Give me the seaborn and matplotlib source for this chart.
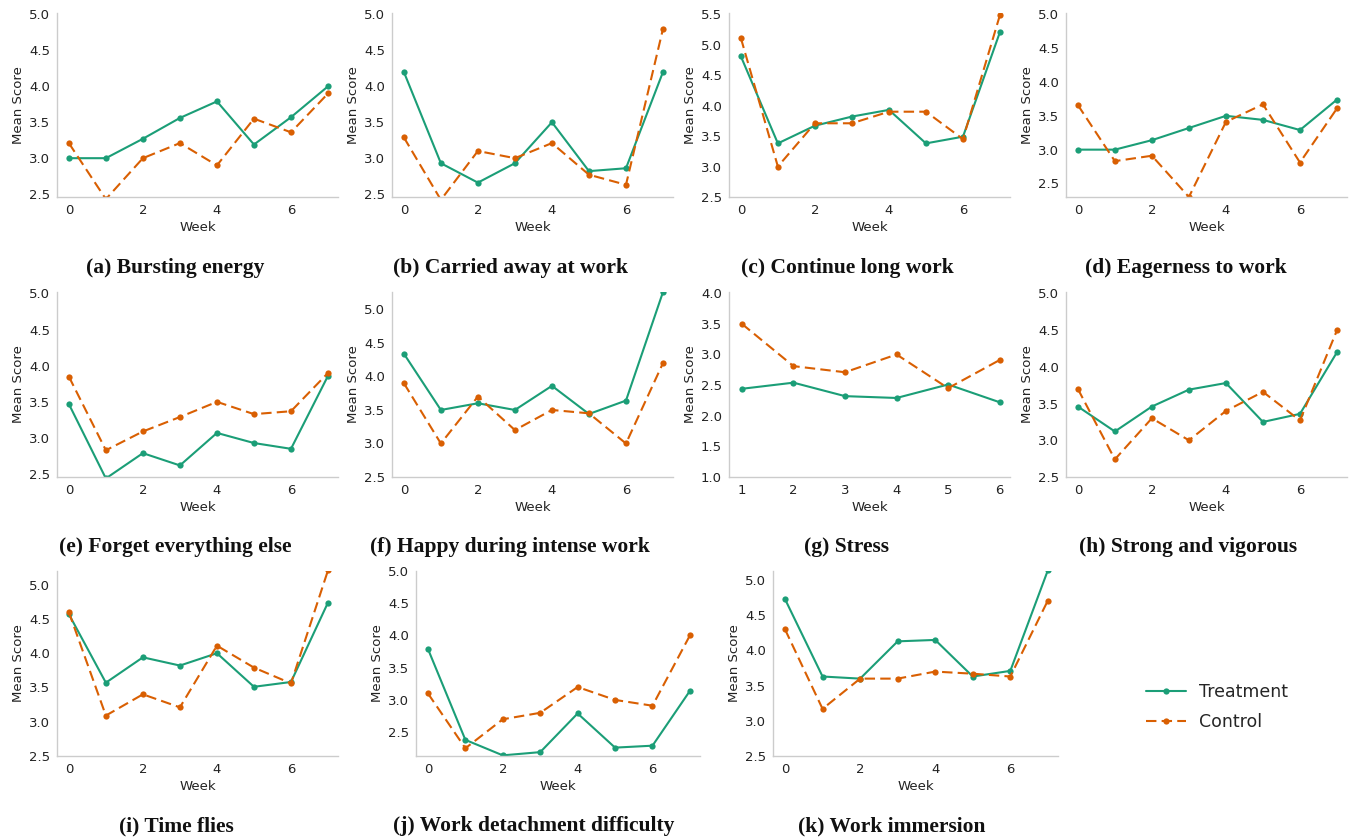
import matplotlib
matplotlib.use("Agg")
import matplotlib.pyplot as plt
import seaborn as sns
import pandas as pd
from matplotlib.lines import Line2D

sns.set_style("white")
plt.rcParams["font.family"] = ["DejaVu Sans"]

# ---------------- data ----------------
weeks = [0, 1, 2, 3, 4, 5, 6, 7]
stress_weeks = [1, 2, 3, 4, 5, 6]

bursting_treat = [3.0, 3.0, 3.27, 3.56, 3.79, 3.19, 3.57, 4.0]
bursting_ctrl = [3.21, 2.43, 3.0, 3.21, 2.9, 3.55, 3.36, 3.9]

carried_treat = [4.2, 2.93, 2.66, 2.93, 3.5, 2.82, 2.86, 4.2]
carried_ctrl = [3.29, 2.42, 3.1, 3.0, 3.21, 2.77, 2.63, 4.8]

continue_treat = [4.81, 3.38, 3.67, 3.82, 3.93, 3.38, 3.49, 5.21]
continue_ctrl = [5.11, 3.0, 3.71, 3.71, 3.9, 3.9, 3.45, 5.49]

eager_treat = [3.0, 3.0, 3.14, 3.32, 3.5, 3.44, 3.29, 3.74]
eager_ctrl = [3.66, 2.83, 2.91, 2.3, 3.41, 3.67, 2.81, 3.61]

forget_treat = [3.47, 2.44, 2.79, 2.62, 3.07, 2.93, 2.85, 3.86]
forget_ctrl = [3.85, 2.83, 3.09, 3.29, 3.5, 3.33, 3.37, 3.9]

happy_treat = [4.34, 3.5, 3.6, 3.5, 3.86, 3.44, 3.64, 5.26]
happy_ctrl = [3.9, 3.0, 3.7, 3.2, 3.5, 3.45, 3.0, 4.2]

stress_treat = [2.44, 2.54, 2.32, 2.29, 2.51, 2.22]
stress_ctrl = [3.5, 2.81, 2.71, 3.0, 2.45, 2.91]

strong_treat = [3.46, 3.12, 3.46, 3.69, 3.78, 3.25, 3.36, 4.2]
strong_ctrl = [3.7, 2.74, 3.3, 3.0, 3.4, 3.66, 3.27, 4.5]

time_treat = [4.57, 3.57, 3.94, 3.82, 4.0, 3.51, 3.58, 4.74]
time_ctrl = [4.6, 3.09, 3.4, 3.21, 4.11, 3.79, 3.56, 5.21]

detach_treat = [3.79, 2.38, 2.14, 2.19, 2.79, 2.26, 2.29, 3.14]
detach_ctrl = [3.1, 2.25, 2.7, 2.8, 3.2, 3.0, 2.91, 4.0]

immersion_treat = [4.73, 3.63, 3.6, 4.13, 4.15, 3.63, 3.71, 5.14]
immersion_ctrl = [4.3, 3.17, 3.6, 3.6, 3.7, 3.67, 3.63, 4.71]

captions = [
    "(a) Bursting energy", "(b) Carried away at work", "(c) Continue long work",
    "(d) Eagerness to work", "(e) Forget everything else", "(f) Happy during intense work",
    "(g) Stress", "(h) Strong and vigorous", "(i) Time flies",
    "(j) Work detachment difficulty", "(k) Work immersion",
]
groups = ["Treatment", "Control"]

panels = [
    (weeks, bursting_treat, bursting_ctrl, (2.46, 5.02)),
    (weeks, carried_treat, carried_ctrl, (2.46, 5.02)),
    (weeks, continue_treat, continue_ctrl, (2.5, 5.52)),
    (weeks, eager_treat, eager_ctrl, (2.3, 5.02)),
    (weeks, forget_treat, forget_ctrl, (2.46, 5.02)),
    (weeks, happy_treat, happy_ctrl, (2.5, 5.26)),
    (stress_weeks, stress_treat, stress_ctrl, (1.0, 4.02)),
    (weeks, strong_treat, strong_ctrl, (2.5, 5.02)),
    (weeks, time_treat, time_ctrl, (2.5, 5.2)),
    (weeks, detach_treat, detach_ctrl, (2.13, 5.0)),
    (weeks, immersion_treat, immersion_ctrl, (2.5, 5.13)),
]

# ---------------- layout (pixels) ----------------
W, H = 1349, 840
rows_px = [(13, 197), (292, 477), (571, 756)]
cols_px = [
    [(57, 338), (392, 673), (729, 1010), (1066, 1347)],
    [(57, 338), (392, 673), (729, 1010), (1066, 1347)],
    [(57, 338), (416, 700), (773, 1058)],
]
cap_x = [[175, 511, 847, 1186], [175, 510, 847, 1188], [176, 534, 892]]
cap_y = [267, 546, 825]

green = "#1b9e77"
orange = "#d95f02"
spine_c = "#cccccc"

fig = plt.figure(figsize=(W / 100, H / 100), dpi=100)

idx = 0
for r, (top, bot) in enumerate(rows_px):
    for c, (l, rr) in enumerate(cols_px[r]):
        x, tr, ct, ylim = panels[idx]
        ax = fig.add_axes([l / W, 1 - bot / H, (rr - l) / W, (bot - top) / H])
        df = pd.DataFrame({
            "Week": list(x) * 2,
            "Mean Score": list(tr) + list(ct),
            "Group": [groups[0]] * len(x) + [groups[1]] * len(x),
        })
        sns.lineplot(
            data=df, x="Week", y="Mean Score", hue="Group", style="Group",
            palette={"Treatment": green, "Control": orange},
            dashes={"Treatment": "", "Control": (5, 2.5)},
            markers={"Treatment": "o", "Control": "o"},
            markersize=4.5, markeredgewidth=0, linewidth=1.5,
            ax=ax, legend=False,
        )
        ax.set_ylim(*ylim)
        if x is stress_weeks:
            ax.set_xlim(0.75, 6.2)
            ax.set_xticks([1, 2, 3, 4, 5, 6])
        else:
            ax.set_xlim(-0.32, 7.27)
            ax.set_xticks([0, 2, 4, 6])
        yt = [v / 2 for v in range(2, 12) if ylim[0] - 0.05 <= v / 2 <= ylim[1] + 0.001]
        ax.set_yticks(yt)
        ax.set_yticklabels([f"{v:.1f}" for v in yt])
        ax.tick_params(labelsize=9.5, length=0, pad=5, colors="#222222")
        ax.set_xlabel("Week", fontsize=9.5, labelpad=3, color="#222222")
        ax.set_ylabel("Mean Score", fontsize=9.5, labelpad=3, color="#222222")
        for s in ["top", "right"]:
            ax.spines[s].set_visible(False)
        for s in ["left", "bottom"]:
            ax.spines[s].set_color(spine_c)
            ax.spines[s].set_linewidth(1.0)
        fig.text(cap_x[r][c] / W, 1 - (cap_y[r] + 1) / H, captions[idx],
                 ha="center", va="center", fontsize=15.5, fontweight="bold",
                 family="Liberation Serif", color="#111111")
        idx += 1

handles = [
    Line2D([], [], color=green, marker="o", markersize=4.5, markeredgewidth=0, lw=1.5),
    Line2D([], [], color=orange, marker="o", markersize=4.5, markeredgewidth=0, lw=1.5,
           dashes=(5, 2.5)),
]
fig.legend(handles, groups, loc="center", bbox_to_anchor=(1217 / W, 1 - 707 / H),
           frameon=False, fontsize=12.5, handlelength=2.3, handletextpad=0.8,
           labelspacing=0.65)

fig.savefig("out.png", dpi=100)
